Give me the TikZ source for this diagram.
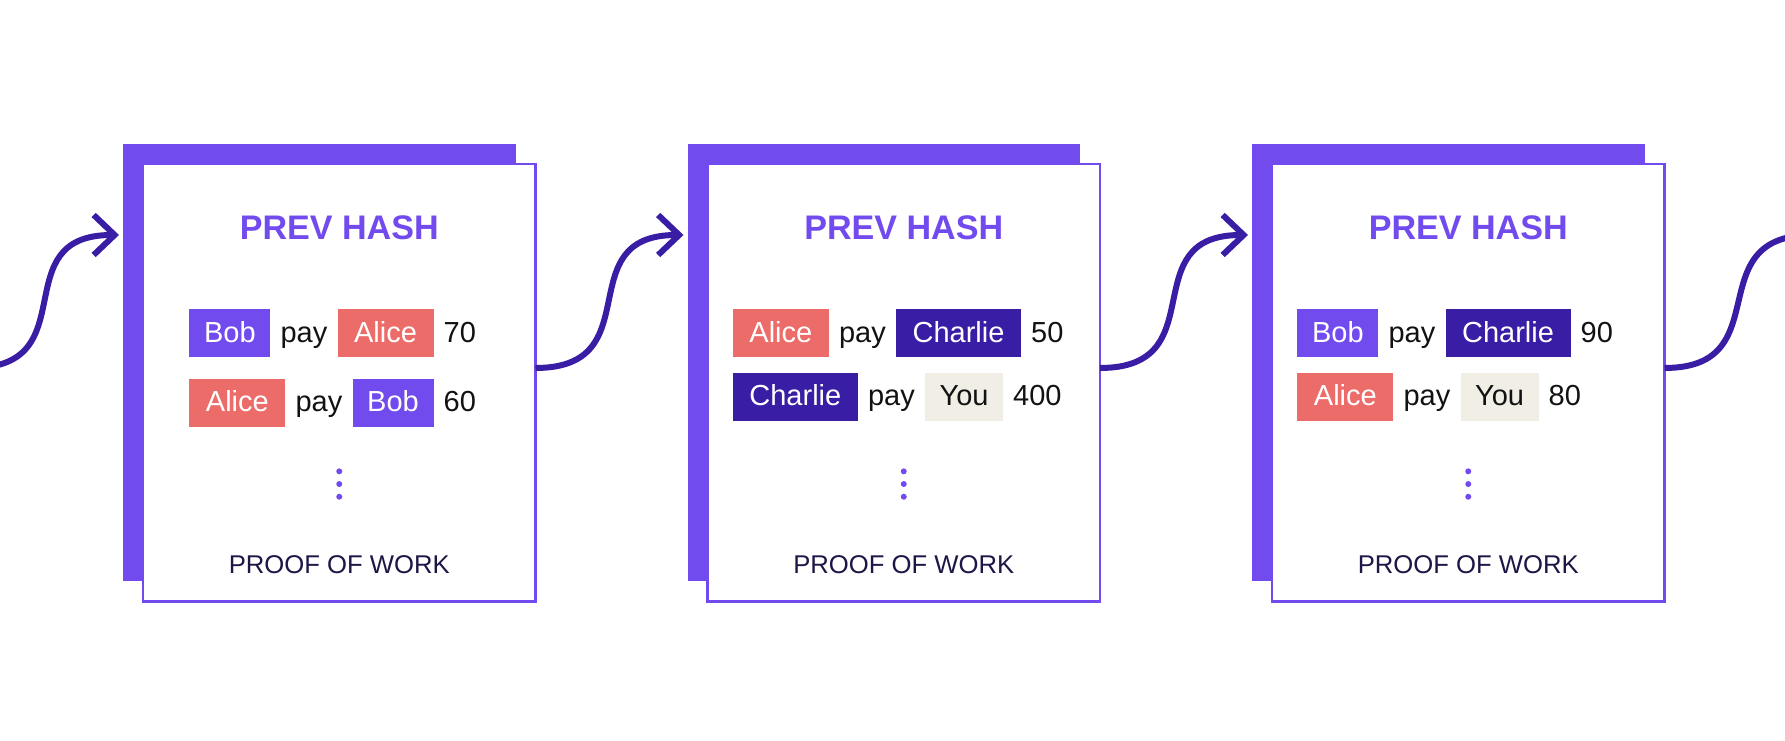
\documentclass[tikz,border=0pt]{standalone}
\usepackage{fontspec}
\setmainfont{Liberation Sans}
\usetikzlibrary{positioning,arrows.meta,backgrounds}
\definecolor{hashpurple}{RGB}{114,75,239}
\definecolor{chainindigo}{RGB}{57,29,165}
\definecolor{alicered}{RGB}{236,108,106}
\definecolor{youcream}{RGB}{241,239,229}
\definecolor{pownavy}{RGB}{29,22,70}
\tikzset{
    block/.style = {draw=hashpurple, fill=white, line width=0.05cm,
        outer sep=0pt, minimum width=7.85cm, minimum height=8.75cm},
    blockback/.style = {fill=hashpurple, outer sep=0pt,
        minimum width=7.85cm, minimum height=8.75cm},
    hashtitle/.style = {text=hashpurple, inner sep=0pt,
        font=\fontsize{19.4pt}{22pt}\selectfont\bfseries},
    proof/.style = {text=pownavy, inner sep=0pt,
        font=\fontsize{14.6pt}{17pt}\selectfont},
    tx/.style = {inner sep=0pt, text height=11.6pt, text depth=1.7pt,
        text=black!93, font=\fontsize{16.5pt}{19pt}\selectfont},
    nametag/.style = {tx, minimum height=0.96cm},
    bobtag/.style = {nametag, fill=hashpurple, text=white, minimum width=1.62cm},
    alicetag/.style = {nametag, fill=alicered, text=white, minimum width=1.92cm},
    charlietag/.style = {nametag, fill=chainindigo, text=white, minimum width=2.5cm},
    youtag/.style = {nametag, fill=youcream, minimum width=1.56cm},
    tdot/.style = {circle, fill=hashpurple, inner sep=0pt, minimum size=0.12cm},
    link/.style = {draw=chainindigo, line width=0.12cm, ->}
}

\begin{document}
\begin{tikzpicture}[node distance=0.19cm, >={Straight Barb[length=0.42cm,width=0.8cm]}]
    \useasboundingbox (0,0) rectangle (35.7,14.82);
    \clip (0,0) rectangle (35.7,14.82);

    % blocks
    \node [block] (blk1) at (6.785,7.165) {};
    \node [block, right of=blk1, node distance=11.29cm] (blk2) {};
    \node [block, right of=blk2, node distance=11.29cm] (blk3) {};
    \begin{scope}[on background layer]
        \node [blockback] (bk1) at ([shift={(-0.4,0.4)}]blk1.center) {};
        \node [blockback] (bk2) at ([shift={(-0.4,0.4)}]blk2.center) {};
        \node [blockback] (bk3) at ([shift={(-0.4,0.4)}]blk3.center) {};
    \end{scope}

    % block 1
    \node [hashtitle, below=1.02cm of blk1.north] (ph1) {PREV HASH};
    \node [bobtag, anchor=north west] (s1) at ([xshift=0.92cm,yshift=-2.9cm]blk1.north west) {Bob};
    \node [tx, right=of s1] (p1) {pay};
    \node [alicetag, right=of p1] (r1) {Alice};
    \node [tx, right=of r1] (m1) {70};
    \node [alicetag, below right=0.42cm and 0cm of s1.south west] (s1b) {Alice};
    \node [tx, right=of s1b] (p1b) {pay};
    \node [bobtag, right=of p1b] (r1b) {Bob};
    \node [tx, right=of r1b] (m1b) {60};
    \node [tdot, below=6.08cm of blk1.north] (d1) {};
    \node [tdot, below=0.12cm of d1] (d1b) {};
    \node [tdot, below=0.12cm of d1b] (d1c) {};
    \node [proof, below=7.82cm of blk1.north] (pw1) {PROOF OF WORK};

    % block 2
    \node [hashtitle, below=1.02cm of blk2.north] (ph2) {PREV HASH};
    \node [alicetag, anchor=north west] (s2) at ([xshift=0.5cm,yshift=-2.9cm]blk2.north west) {Alice};
    \node [tx, right=of s2] (p2) {pay};
    \node [charlietag, right=of p2] (r2) {Charlie};
    \node [tx, right=of r2] (m2) {50};
    \node [charlietag, below right=0.3cm and 0cm of s2.south west] (s2b) {Charlie};
    \node [tx, right=of s2b] (p2b) {pay};
    \node [youtag, right=of p2b] (r2b) {You};
    \node [tx, right=of r2b] (m2b) {400};
    \node [tdot, below=6.08cm of blk2.north] (d2) {};
    \node [tdot, below=0.12cm of d2] (d2b) {};
    \node [tdot, below=0.12cm of d2b] (d2c) {};
    \node [proof, below=7.82cm of blk2.north] (pw2) {PROOF OF WORK};

    % block 3
    \node [hashtitle, below=1.02cm of blk3.north] (ph3) {PREV HASH};
    \node [bobtag, anchor=north west] (s3) at ([xshift=0.5cm,yshift=-2.9cm]blk3.north west) {Bob};
    \node [tx, right=of s3] (p3) {pay};
    \node [charlietag, right=of p3] (r3) {Charlie};
    \node [tx, right=of r3] (m3) {90};
    \node [alicetag, below right=0.3cm and 0cm of s3.south west] (s3b) {Alice};
    \node [tx, right=of s3b] (p3b) {pay};
    \node [youtag, right=of p3b] (r3b) {You};
    \node [tx, right=of r3b] (m3b) {80};
    \node [tdot, below=6.08cm of blk3.north] (d3) {};
    \node [tdot, below=0.12cm of d3] (d3b) {};
    \node [tdot, below=0.12cm of d3b] (d3c) {};
    \node [proof, below=7.82cm of blk3.north] (pw3) {PROOF OF WORK};

    % hash links
    \coordinate (prv) at (-0.57,7.46);
    \coordinate (nxt) at (36.25,10.12);
    \draw [link] (prv) to[out=0,in=180,looseness=1.5] ([xshift=-0.08cm,yshift=2.555cm]bk1.west);
    \draw [link] ([yshift=0.295cm]blk1.east) to[out=0,in=180,looseness=1.5] ([xshift=-0.08cm,yshift=2.555cm]bk2.west);
    \draw [link] ([yshift=0.295cm]blk2.east) to[out=0,in=180,looseness=1.5] ([xshift=-0.08cm,yshift=2.555cm]bk3.west);
    \draw [link, -] ([yshift=0.295cm]blk3.east) to[out=0,in=180,looseness=1.5] (nxt);
\end{tikzpicture}
\end{document}
